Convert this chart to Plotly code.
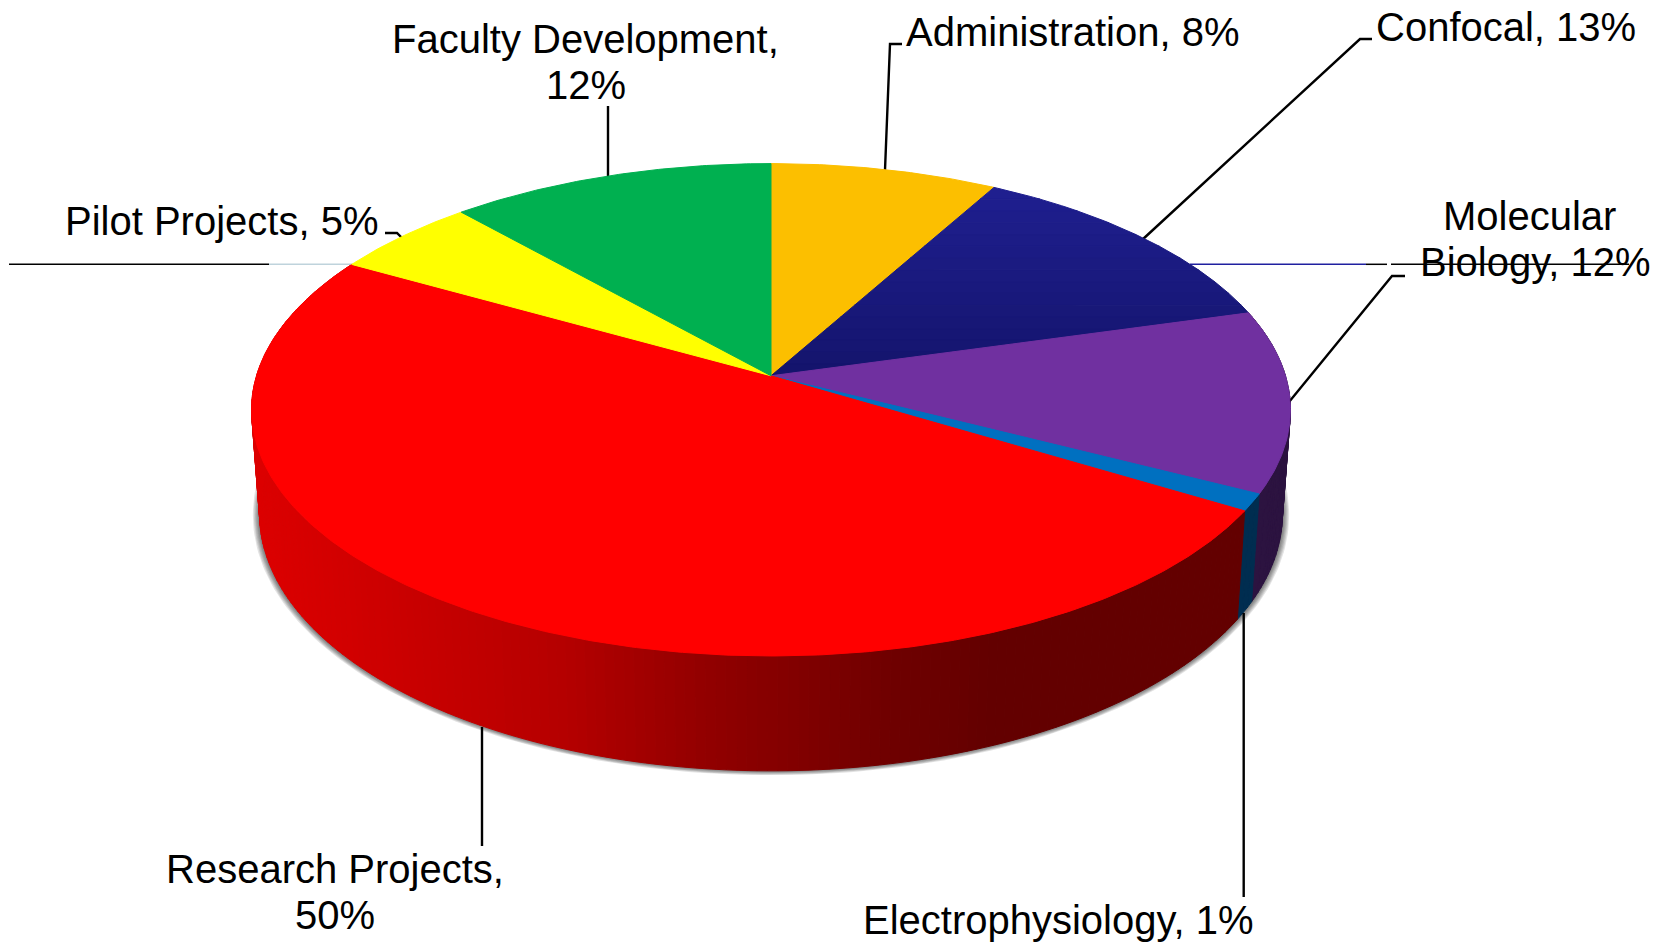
import numpy as np
import plotly.graph_objects as go

# ---- data ----
categories = ["Administration", "Confocal", "Molecular Biology", "Electrophysiology",
              "Research Projects", "Pilot Projects", "Faculty Development"]
slice_shares = [8.07, 12.57, 11.93, 1.11, 49.5, 5.24, 11.56]
# percentages as printed on the labels
printed_percent = [8, 13, 12, 1, 50, 5, 12]

# ---- styling ----
top_colors = ["#FCBF00", "#1D1D8A", "#7030A0", "#0070C0", "#FF0000", "#FFFF00", "#00B050"]
wall_colors = {"Molecular Biology": "#2C1340", "Electrophysiology": "#002D50"}
FONT = "Liberation Sans"
FS = 40

# projection of the tilted disc into page pixels
CX, K = 771.0, 0.138
TOP = dict(cy=375.8, a=514.5, b=241.5)
BOT = dict(cy=478.5, a=506.5, b=252.0)


def proj(theta_deg, cy, a, b):
    t = np.radians(theta_deg)
    d = 1 + K * np.cos(t)
    return CX + a * np.sin(t) / d, cy - b * np.cos(t) / d


def hex2rgb(h):
    return np.array([int(h[i:i + 2], 16) for i in (1, 3, 5)], float)


def ramp(v, stops):
    xs = [s[0] for s in stops]
    cols = np.array([hex2rgb(s[1]) for s in stops])
    c = [np.interp(v, xs, cols[:, i]) for i in range(3)]
    return "rgb(%d,%d,%d)" % tuple(int(round(x)) for x in c)


def poly(fig, x, y, color, lw=1.0):
    fig.add_trace(go.Scatter(x=list(x), y=list(y), mode="lines", fill="toself", fillcolor=color,
                             line=dict(color=color, width=lw), hoverinfo="skip", showlegend=False))


def line(fig, x, y, color="#000000", w=2.4):
    fig.add_trace(go.Scatter(x=x, y=y, mode="lines", line=dict(color=color, width=w),
                             hoverinfo="skip", showlegend=False))


def clip_band(px, py, y0, y1):
    pts = list(zip(px, py))

    def clip(pts, keep, cross):
        out = []
        for i in range(len(pts)):
            p, q = pts[i], pts[(i + 1) % len(pts)]
            if keep(p):
                out.append(p)
            if keep(p) != keep(q):
                out.append(cross(p, q))
        return out

    def at(yv):
        return lambda p, q: (p[0] + (yv - p[1]) * (q[0] - p[0]) / (q[1] - p[1]), yv)

    pts = clip(pts, lambda p: p[1] >= y0, at(y0))
    if pts:
        pts = clip(pts, lambda p: p[1] <= y1, at(y1))
    return [p[0] for p in pts], [p[1] for p in pts]


edges = np.concatenate([[0], np.cumsum(slice_shares)]) / sum(slice_shares) * 360

fig = go.Figure()

# soft shadow below the disc
full = np.linspace(0, 360, 361)
for i in range(1, 7):
    f = 1 + i * 0.0022
    sx, sy = proj(full, BOT["cy"], BOT["a"] * f, BOT["b"] * f)
    sy = sy + i * 0.1
    fig.add_trace(go.Scatter(x=list(sx), y=list(sy), mode="lines", fill="toself",
                             fillcolor="rgba(0,0,0,0.11)", line=dict(width=0),
                             hoverinfo="skip", showlegend=False))

# side wall
red_stops = [(250, "#DD0000"), (330, "#D40000"), (563, "#B50000"), (697, "#940000"),
             (770, "#860000"), (890, "#6F0000"), (995, "#630000"), (1240, "#630000")]
for name, t0, t1 in zip(categories, edges[:-1], edges[1:]):
    if name not in ("Molecular Biology", "Electrophysiology", "Research Projects"):
        continue
    n = max(2, int((t1 - t0) / 1.0))
    ts = np.linspace(t0, t1, n + 1)
    for a0, a1 in zip(ts[:-1], ts[1:]):
        arc = np.array([a0, a1])
        tx, ty = proj(arc, **TOP)
        bx, by = proj(arc, **BOT)
        if name == "Research Projects":
            c = ramp((tx.mean() + bx.mean()) / 2, red_stops)
        else:
            c = wall_colors[name]
        poly(fig, [tx[0], tx[1], bx[1], bx[0], tx[0]], [ty[0], ty[1], by[1], by[0], ty[0]], c)

# leader lines and the stray horizontal rule
line(fig, [9, 269], [264.3, 264.3], "#000000", 1.5)
line(fig, [269, 353], [264.3, 264.3], "#BFD3DC", 1.5)
line(fig, [1190, 1366], [264.3, 264.3], "#2020A0", 1.5)
line(fig, [1366, 1387], [264.3, 264.3], "#000000", 1.5)
line(fig, [1391, 1629], [264.3, 264.3], "#000000", 1.5)
line(fig, [885, 890, 902], [170, 44, 44])
line(fig, [608, 608], [106, 178])
line(fig, [1142, 1360, 1372], [240, 39, 39])
line(fig, [1289, 1392, 1405], [402, 276, 276])
line(fig, [1243.7, 1243.7], [613, 897])
line(fig, [482, 482], [727, 846])
line(fig, [385, 397, 404], [233, 233, 240])

# top faces
for name, col, t0, t1 in zip(categories, top_colors, edges[:-1], edges[1:]):
    ts = np.linspace(t0, t1, max(3, int(t1 - t0) * 2))
    ax, ay = proj(ts, **TOP)
    px = np.concatenate([[CX], ax, [CX]])
    py = np.concatenate([[TOP["cy"]], ay, [TOP["cy"]]])
    if name == "Confocal":
        ylo, yhi = py.min(), py.max()
        bands = np.linspace(ylo, yhi, 17)
        for y0, y1 in zip(bands[:-1], bands[1:]):
            bx, by = clip_band(px[:-1], py[:-1], y0, y1)
            c = ramp((y0 + y1) / 2, [(ylo, "#1F1F90"), (yhi, "#14146C")])
            if bx:
                poly(fig, bx + bx[:1], by + by[:1], c)
    else:
        poly(fig, px, py, col)

# labels: one annotation per printed line
pct = dict(zip(categories, printed_percent))
label_lines = [
    ("Faculty Development,", 585, 39),
    (f"{pct['Faculty Development']}%", 585.5, 85),
    (f"Administration, {pct['Administration']}%", 1072, 32),
    (f"Confocal, {pct['Confocal']}%", 1506, 27),
    ("Molecular", 1529.5, 216),
    (f"Biology, {pct['Molecular Biology']}%", 1535, 262),
    (f"Pilot Projects, {pct['Pilot Projects']}%", 221, 221),
    ("Research Projects,", 335, 869),
    (f"{pct['Research Projects']}%", 335, 915),
    (f"Electrophysiology, {pct['Electrophysiology']}%", 1058, 920),
]
annotations = [dict(x=x, y=y, text=t, showarrow=False, xanchor="center", yanchor="middle",
                    xref="x", yref="y", font=dict(family=FONT, size=FS, color="#000000"))
               for t, x, y in label_lines]

fig.update_layout(
    width=1667, height=945, margin=dict(l=0, r=0, t=0, b=0),
    paper_bgcolor="#FFFFFF", plot_bgcolor="#FFFFFF", showlegend=False,
    xaxis=dict(range=[0, 1667], visible=False, fixedrange=True),
    yaxis=dict(range=[945, 0], visible=False, fixedrange=True),
    annotations=annotations,
)
fig.write_html("out.html", config={"displayModeBar": False},
               post_script="document.body.style.margin='0';document.body.style.overflow='hidden';")
